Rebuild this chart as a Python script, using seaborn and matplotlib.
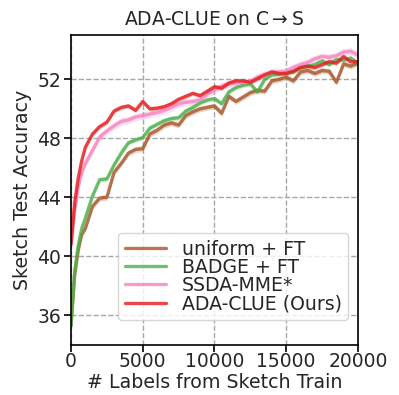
import numpy as np
import pandas as pd
import seaborn as sns
import matplotlib.pyplot as plt

## number of labels queried
labels = [0, 250, 500, 750, 1000, 1500, 2000, 2500, 3000, 3500, 4000, 4500,
          5000, 5500, 6000, 6500, 7000, 7500, 8000, 8500, 9000, 9500, 10000,
          10500, 11000, 11500, 12000, 12500, 13000, 13500, 14000, 14500, 15000,
          15500, 16000, 16500, 17000, 17500, 18000, 18500, 19000, 19500, 20000]

uniform_ft = [35.3, 38.7, 40.4, 41.5, 41.9, 43.4, 43.95, 44.0, 45.7, 46.3, 47.0, 47.25,
              47.3, 48.3, 48.55, 48.9, 49.05, 48.9, 49.55, 49.8, 50.0, 50.1, 50.2,
              49.7, 50.85, 50.5, 50.8, 51.1, 51.25, 51.2, 51.9, 52.0, 52.15,
              51.9, 52.5, 52.6, 52.4, 52.6, 52.55, 51.8, 53.05, 52.9, 53.1]

badge_ft = [35.3, 38.9, 40.7, 41.9, 42.6, 44.1, 45.2, 45.25, 46.2, 47.0, 47.7, 47.9,
            48.05, 48.7, 48.95, 49.2, 49.35, 49.4, 49.85, 50.1, 50.4, 50.6, 50.7,
            50.35, 51.15, 51.45, 51.6, 51.7, 51.15, 52.0, 52.3, 52.35, 52.45,
            52.5, 52.8, 52.9, 53.0, 53.25, 53.0, 53.35, 53.3, 53.45, 53.1]

ssda_mme = [40.8, 43.0, 44.7, 45.7, 46.3, 47.2, 48.1, 48.5, 48.85, 49.15, 49.25, 49.45,
            49.55, 49.65, 49.75, 49.9, 50.1, 50.35, 50.45, 50.5, 50.6, 51.0, 51.3,
            51.55, 51.7, 51.75, 51.8, 51.85, 52.15, 52.35, 52.5, 52.5, 52.55,
            52.8, 53.0, 53.15, 53.4, 53.55, 53.5, 53.6, 53.85, 53.9, 53.65]

ada_clue = [40.8, 43.6, 45.3, 46.5, 47.4, 48.3, 48.8, 49.1, 49.85, 50.1, 50.2, 49.9,
            50.5, 50.0, 50.05, 50.15, 50.35, 50.65, 50.85, 51.05, 50.9, 51.2, 51.5,
            51.4, 51.75, 51.9, 51.9, 51.8, 52.05, 52.3, 52.5, 52.4, 52.4,
            52.55, 52.8, 52.9, 52.8, 53.0, 53.2, 53.1, 53.55, 53.2, 53.2]

methods = ['uniform + FT', 'BADGE + FT', 'SSDA-MME*', 'ADA-CLUE (Ours)']
## half width of the shaded band (std over runs)
spread = [0.2, 0.15, 0.25, 0.15]
colors = ['#a65628', '#4daf4a', '#f781bf', '#e41a1c']

df = pd.DataFrame({
    'labels': labels * 4,
    'acc': uniform_ft + badge_ft + ssda_mme + ada_clue,
    'method': [m for m in methods for _ in labels],
})

sns.set_style('ticks')
plt.rcParams['font.family'] = ['DejaVu Sans']

fig = plt.figure(figsize=(3.99, 3.95), dpi=100)
ax = fig.add_axes([0.178, 0.127, 0.719, 0.784])

pal = dict(zip(methods, colors))
sns.lineplot(data=df, x='labels', y='acc', hue='method', palette=pal,
             linewidth=2.4, alpha=0.8, ax=ax)

for m, s in zip(methods, spread):
    sub = df[df['method'] == m]
    ax.fill_between(sub['labels'], sub['acc'] - s, sub['acc'] + s,
                    color=pal[m], alpha=0.25, linewidth=0)

ax.set_xlim(0, 20000)
ax.set_ylim(34, 55)
ax.set_xticks([0, 5000, 10000, 15000, 20000])
ax.set_yticks([36, 40, 44, 48, 52])
ax.grid(True, linestyle='--', color='#a8a8a8', linewidth=1)
ax.tick_params(labelsize=13.5, length=5, width=1.2, color='k', pad=2)
ax.tick_params(axis='x', pad=0.5)
for sp in ax.spines.values():
    sp.set_color('k')
    sp.set_linewidth(1.2)

ax.set_xlabel('# Labels from Sketch Train', fontsize=13.7, labelpad=1)
ax.set_ylabel('Sketch Test Accuracy', fontsize=13.7, labelpad=4)
ax.set_title('ADA-CLUE on C$\\rightarrow$S', fontsize=13.5, pad=7)

leg = ax.legend(loc='lower right', bbox_to_anchor=(0.966, 0.081), fontsize=13.6,
                handlelength=2.2, borderaxespad=0, labelspacing=-0.05, borderpad=0.35,
                handletextpad=0.8, title=None)
for line in leg.get_lines():
    line.set_linewidth(2.4)

fig.savefig('out.png', dpi=100)
